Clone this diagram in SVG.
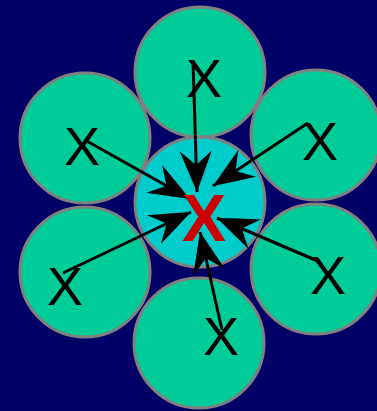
<svg xmlns="http://www.w3.org/2000/svg" width="377" height="411" viewBox="0 0 377 411">
<style>
.outer{fill:#00CC99;stroke:#808080;stroke-width:3}
.inner{fill:#00CCCC;stroke:#808080;stroke-width:3}
.lbl{font-family:"Liberation Sans",Arial,sans-serif;font-size:54px;fill:#000;text-anchor:middle}
.ctr{font-family:"Liberation Sans",Arial,sans-serif;font-size:66px;font-weight:bold;fill:#CC0000;text-anchor:middle}
.edge{stroke:#000;stroke-width:3;fill:none;marker-end:url(#head)}
</style>
<defs>
<marker id="head" markerUnits="userSpaceOnUse" viewBox="-44 -18 46 36" markerWidth="46" markerHeight="36" refX="0" refY="0" orient="auto" overflow="visible">
<path d="M0,0 Q-20,-8 -41,-16 L-27,0 L-41,16 Q-20,8 0,0 Z" fill="#000"/>
</marker>
</defs>
<rect width="377" height="411" fill="#000066"/>
<g id="node-top"><circle class="outer" cx="200" cy="72" r="65"/><text class="lbl" x="204" y="97">X</text></g>
<g id="node-ul"><circle class="outer" cx="85" cy="138" r="65"/><text class="lbl" x="82" y="165">X</text></g>
<g id="node-ur"><circle class="outer" cx="316" cy="135" r="65"/><text class="lbl" x="320" y="160">X</text></g>
<g id="node-ll"><circle class="outer" cx="85" cy="272" r="65"/><text class="lbl" x="65" y="305">X</text></g>
<g id="node-lr"><circle class="outer" cx="316" cy="269" r="65"/><text class="lbl" x="328" y="294">X</text></g>
<g id="node-bottom"><circle class="outer" cx="199" cy="343" r="65"/><text class="lbl" x="221" y="355">X</text></g>
<g id="node-center"><circle class="inner" cx="200" cy="202" r="65"/></g>
<g id="connectors">
<line class="edge" x1="193" y1="60" x2="197" y2="192"/>
<line class="edge" x1="85" y1="140" x2="190" y2="199"/>
<line class="edge" x1="308" y1="123" x2="213" y2="186"/>
<line class="edge" x1="63" y1="273" x2="191" y2="212"/>
<line class="edge" x1="320" y1="262" x2="217" y2="218"/>
<line class="edge" x1="222" y1="330" x2="200" y2="232"/>
</g>
<g id="node-center-label"><text class="ctr" x="204" y="241">X</text></g>
</svg>
